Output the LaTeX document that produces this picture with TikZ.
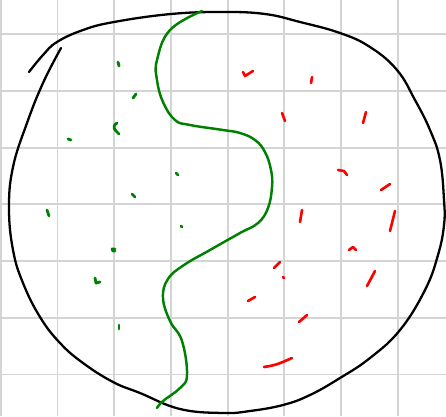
\documentclass[tikz,border=0pt]{standalone}
\tikzset{
  gridline/.style={draw=black!17, line width=1.1pt},
  rim/.style={draw=black, line width=1.3pt, line cap=round},
  divide/.style={draw=green!50!black, line width=1.4pt, line cap=round},
  goodmark/.style={draw=green!50!black, line width=1.6pt, line cap=round, line join=round},
  badmark/.style={draw=red, line width=1.5pt, line cap=round, line join=round}
}

\begin{document}
\begin{tikzpicture}[x=0.02cm, y=-0.02cm]
  \fill[white] (0,0) rectangle (446,416);
  \useasboundingbox (0,0) rectangle (446,416);

  % grid paper
  \begin{scope}
    \clip (0,0) rectangle (446,416);
    \foreach \k in {0,...,7} {
      \draw[gridline] (0.8+56.7*\k,0) -- (0.8+56.7*\k,416);
      \draw[gridline] (0,34.3+56.7*\k) -- (446,34.3+56.7*\k);
    }
  \end{scope}

  % outer boundary
  \draw[rim] plot[smooth, tension=0.7] coordinates {
    (29,72) (43,55) (57,42) (83,30) (114,22) (171,14) (223,12) (265,14)
    (300,22) (340,33) (370,47) (397,70) (415,100) (430,130) (440,160)
    (444,200) (444,225) (438,255) (425,290) (400,330) (370,358) (340,378)
    (310,395) (283,405) (250,411) (223,413) (180,409) (140,393) (113,382)
    (83,363) (60,343) (40,317) (23,283) (13,250) (9,208) (13,167)
    (27,123) (43,83) (61,48)};

  % dividing line
  \draw[divide] plot[smooth, tension=0.7] coordinates {
    (202,11) (170,30) (157,60) (157,80) (163,102) (175,120) (190,125)
    (223,130) (240,133) (255,140) (265,152) (271,170) (272,187) (268,208)
    (258,223) (240,233) (210,250) (184,265) (168,279) (163,298) (170,321)
    (182,341) (187,375) (180,388) (163,401) (157,408)};

  % green marks
  \draw[goodmark] (118,62) -- (119,66);
  \draw[goodmark] (133,98) -- (136,94);
  \draw[goodmark] (117,123) .. controls (111,127) and (115,130) .. (119,134);
  \draw[goodmark] (68,139) -- (71,140);
  \draw[goodmark] (176,173) -- (178,175);
  \draw[goodmark] (132,194) -- (135,197);
  \draw[goodmark] (47,210) -- (49,216);
  \draw[goodmark] (181,226) -- (182,227);
  \draw[goodmark] (115,249) -- (112,249) -- (113,251) -- (115,251);
  \draw[goodmark] (95,278) -- (96,283) -- (100,282);
  \draw[goodmark] (119,325) -- (119,329);

  % red marks
  \draw[badmark] (243,72) -- (245,76) -- (253,71);
  \draw[badmark] (312,77) -- (311,83);
  \draw[badmark] (282,113) -- (285,121);
  \draw[badmark] (366,112) -- (363,123);
  \draw[badmark] (338,170) -- (344,171) -- (347,175);
  \draw[badmark] (381,190) -- (390,184);
  \draw[badmark] (302,210) -- (300,222);
  \draw[badmark] (395,211) -- (390,231);
  \draw[badmark] (349,250) -- (353,247) -- (356,250);
  \draw[badmark] (274,268) -- (280,262);
  \draw[badmark] (283,277) -- (284,278);
  \draw[badmark] (375,271) -- (367,286);
  \draw[badmark] (248,301) -- (255,297);
  \draw[badmark] (299,322) -- (307,315);
  \draw[badmark] (264,367) .. controls (276,365) .. (292,358);
\end{tikzpicture}
\end{document}
